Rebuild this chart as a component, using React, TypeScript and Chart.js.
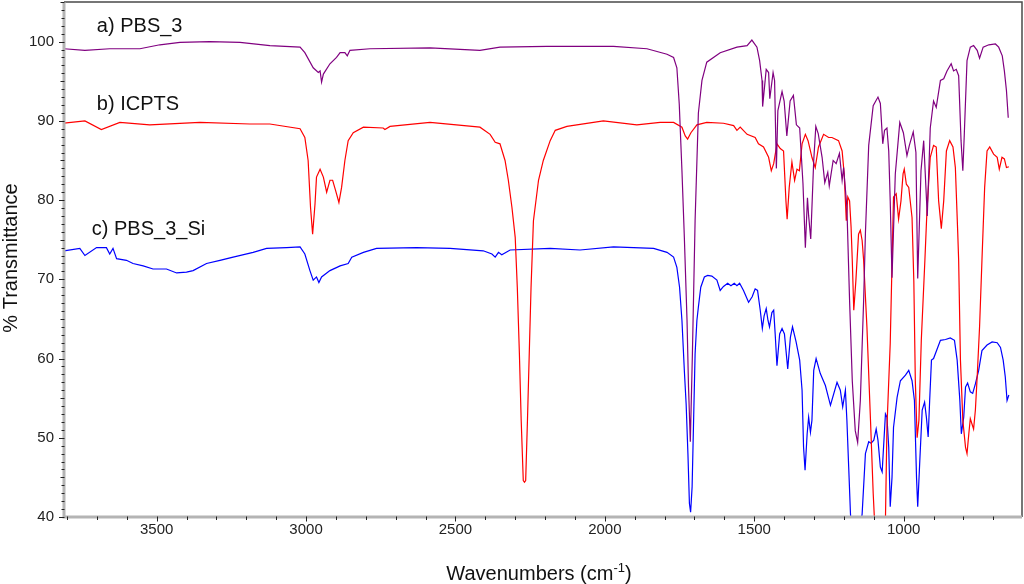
import React, { useEffect, useRef } from 'react';
import { Chart, registerables } from 'chart.js';

Chart.register(...registerables);

// ---- axis definitions ----
const xTickValues = [3500, 3000, 2500, 2000, 1500, 1000];
const yTickValues = [40, 50, 60, 70, 80, 90, 100];
const X_MIN = 604;
const X_MAX = 3810;
const Y_MIN = 40;
const Y_MAX = 105;

// ---- series: [wavenumber (cm-1), % transmittance] ----
const pbs3: [number, number][] = [
  [3810, 99.1], [3740, 98.9], [3657, 99.1], [3556, 99.1], [3489, 99.6], [3422, 99.9], [3322, 100.0], [3221, 99.9],
  [3121, 99.5], [3020, 99.3], [3004, 98.6], [2976, 96.7], [2959, 96.1], [2953, 96.3], [2948, 94.9], [2942, 95.9],
  [2920, 97.2], [2898, 98.0], [2886, 98.6], [2870, 98.6], [2862, 98.2], [2853, 98.9], [2786, 99.1], [2585, 99.2],
  [2418, 98.9], [2351, 99.3], [2194, 99.4], [1971, 99.4], [1859, 99.1], [1792, 98.4], [1770, 98.0], [1759, 96.7],
  [1751, 92.1], [1742, 83.7], [1734, 75.3], [1725, 64.8], [1720, 56.4], [1714, 49.5], [1707, 60.6], [1698, 77.4],
  [1687, 91.0], [1675, 95.1], [1659, 97.4], [1614, 98.6], [1558, 99.3], [1524, 99.5], [1508, 100.2], [1491, 99.3],
  [1482, 97.6], [1474, 95.1], [1472, 91.8], [1460, 96.5], [1452, 96.1], [1448, 92.8], [1437, 96.1], [1432, 95.1],
  [1426, 84.0], [1421, 91.3], [1407, 93.7], [1400, 92.5], [1391, 88.1], [1380, 92.5], [1369, 93.2], [1359, 89.5],
  [1348, 89.1], [1337, 82.1], [1329, 74.0], [1322, 80.3], [1318, 78.0], [1311, 75.1], [1301, 85.0], [1294, 89.3],
  [1286, 88.4], [1273, 85.4], [1264, 82.2], [1254, 83.5], [1249, 81.8], [1236, 85.0], [1226, 84.6], [1215, 85.9],
  [1206, 82.5], [1201, 84.1], [1190, 79.1], [1181, 67.3], [1172, 57.2], [1162, 50.9], [1154, 49.4], [1145, 54.7],
  [1134, 67.3], [1128, 75.8], [1117, 86.9], [1102, 91.9], [1086, 93.0], [1078, 92.2], [1070, 87.1], [1064, 88.8],
  [1056, 89.1], [1050, 86.2], [1045, 79.9], [1039, 70.2], [1028, 83.3], [1013, 89.8], [1001, 88.5], [989, 85.6],
  [981, 86.9], [968, 88.6], [959, 86.0], [953, 70.1], [942, 83.7], [933, 87.5], [921, 78.0], [911, 89.1],
  [900, 92.5], [891, 91.7], [877, 95.1], [866, 95.3], [855, 96.3], [841, 97.2], [833, 96.3], [824, 96.5],
  [816, 95.7], [808, 87.5], [802, 83.7], [797, 88.4], [788, 97.6], [777, 99.3], [766, 99.5], [754, 98.9],
  [746, 97.9], [734, 99.3], [715, 99.6], [693, 99.7], [682, 99.3], [670, 98.2], [663, 96.3], [656, 93.8],
  [650, 90.4],
];

const icpts: [number, number][] = [
  [3810, 89.7], [3740, 90.0], [3685, 88.9], [3623, 89.8], [3523, 89.5], [3355, 89.8], [3188, 89.6], [3121, 89.6],
  [3020, 89.0], [3004, 87.9], [2993, 85.0], [2985, 79.1], [2978, 75.7], [2970, 79.5], [2965, 82.9], [2953, 83.9],
  [2942, 82.9], [2931, 81.0], [2920, 82.5], [2911, 82.5], [2901, 81.2], [2890, 79.7], [2881, 81.6], [2870, 85.0],
  [2859, 87.5], [2842, 88.5], [2808, 89.2], [2742, 89.1], [2736, 88.9], [2719, 89.3], [2585, 89.8], [2418, 89.2],
  [2384, 88.3], [2367, 87.3], [2351, 87.1], [2334, 85.0], [2323, 82.5], [2311, 79.1], [2300, 75.3], [2293, 69.0],
  [2286, 60.6], [2280, 52.2], [2273, 44.6], [2269, 44.4], [2265, 44.6], [2259, 52.2], [2253, 60.6], [2247, 69.0],
  [2239, 77.4], [2222, 82.5], [2206, 85.0], [2183, 87.5], [2166, 88.8], [2127, 89.3], [2005, 90.0], [1893, 89.5],
  [1815, 89.8], [1770, 89.8], [1742, 89.2], [1731, 88.1], [1723, 87.7], [1712, 88.5], [1692, 89.5], [1659, 89.8],
  [1603, 89.7], [1569, 89.4], [1558, 88.8], [1547, 89.2], [1524, 88.3], [1497, 87.9], [1486, 87.1], [1469, 86.7],
  [1452, 85.4], [1443, 83.7], [1435, 84.6], [1424, 87.1], [1413, 86.5], [1402, 86.2], [1394, 79.9], [1390, 77.6],
  [1383, 81.6], [1374, 84.8], [1365, 82.5], [1357, 83.9], [1349, 83.7], [1340, 87.1], [1329, 88.3], [1320, 87.5],
  [1307, 85.4], [1296, 84.1], [1285, 86.7], [1268, 88.3], [1251, 87.9], [1240, 87.9], [1218, 87.5], [1206, 86.2],
  [1199, 83.3], [1192, 77.4], [1187, 80.4], [1181, 79.9], [1176, 76.6], [1172, 72.4], [1167, 66.1], [1160, 69.8],
  [1151, 75.7], [1145, 76.2], [1139, 74.9], [1134, 72.4], [1123, 64.0], [1111, 52.2], [1102, 43.0], [1096, 38.3],
  [1078, 36.4], [1061, 39.6], [1056, 51.3], [1045, 61.9], [1034, 80.4], [1025, 80.8], [1017, 77.6], [1009, 79.9],
  [1002, 83.3], [998, 83.9], [991, 82.0], [983, 81.6], [972, 77.8], [966, 69.8], [961, 57.2], [955, 50.0],
  [949, 52.2], [941, 62.3], [929, 72.4], [922, 78.7], [911, 85.4], [900, 86.9], [891, 86.7], [883, 79.9],
  [874, 76.4], [866, 79.9], [857, 86.2], [846, 87.5], [835, 86.7], [827, 84.1], [819, 75.8], [816, 72.4],
  [810, 59.8], [802, 52.2], [793, 48.8], [788, 48.0], [782, 50.5], [777, 52.4], [766, 51.1], [760, 53.5],
  [754, 57.7], [746, 64.0], [738, 72.4], [729, 81.6], [721, 86.2], [712, 86.7], [699, 85.8], [687, 85.4],
  [680, 83.9], [671, 85.4], [663, 85.2], [656, 84.1], [648, 84.2],
];

const pbs3Si: [number, number][] = [
  [3810, 73.6], [3757, 73.9], [3740, 73.0], [3701, 74.0], [3668, 74.0], [3657, 73.2], [3646, 73.9], [3634, 72.6],
  [3601, 72.4], [3579, 72.0], [3545, 71.7], [3512, 71.3], [3467, 71.3], [3433, 70.8], [3400, 70.9], [3378, 71.1],
  [3333, 72.0], [3288, 72.4], [3244, 72.8], [3177, 73.4], [3132, 73.9], [3065, 74.0], [3020, 74.1], [3004, 73.2],
  [2987, 71.1], [2976, 69.9], [2965, 70.3], [2957, 69.6], [2948, 70.3], [2920, 71.1], [2886, 71.7], [2859, 72.0],
  [2847, 72.8], [2808, 73.4], [2764, 73.9], [2630, 74.0], [2518, 73.9], [2407, 73.6], [2378, 73.2], [2367, 72.8],
  [2356, 73.4], [2345, 73.1], [2317, 73.7], [2183, 73.9], [2083, 73.7], [1971, 74.1], [1837, 73.9], [1792, 73.4],
  [1770, 72.8], [1759, 71.5], [1750, 69.0], [1742, 64.8], [1734, 58.5], [1728, 54.3], [1722, 48.0], [1717, 41.7],
  [1713, 40.6], [1708, 43.8], [1703, 52.2], [1698, 60.6], [1692, 64.8], [1687, 66.5], [1679, 69.0], [1667, 70.3],
  [1656, 70.5], [1642, 70.4], [1625, 69.9], [1614, 68.6], [1603, 69.1], [1589, 69.5], [1578, 69.2], [1567, 69.5],
  [1558, 69.2], [1549, 69.5], [1536, 68.6], [1519, 67.1], [1507, 67.8], [1497, 68.8], [1489, 68.6], [1480, 66.1],
  [1473, 63.8], [1467, 65.4], [1460, 66.3], [1454, 64.8], [1449, 64.0], [1441, 65.8], [1435, 66.1], [1430, 63.1],
  [1424, 59.1], [1415, 63.1], [1407, 63.8], [1399, 63.1], [1388, 58.7], [1379, 62.7], [1372, 64.0], [1360, 62.1],
  [1348, 59.8], [1340, 56.0], [1335, 48.8], [1330, 45.9], [1323, 50.5], [1318, 52.6], [1312, 50.7], [1307, 52.2],
  [1301, 58.5], [1293, 60.0], [1279, 58.1], [1262, 56.6], [1245, 54.1], [1223, 57.0], [1212, 56.0], [1204, 53.9],
  [1195, 56.0], [1190, 52.2], [1184, 46.3], [1178, 40.4], [1172, 36.4], [1152, 36.4], [1139, 40.4], [1128, 48.0],
  [1117, 49.5], [1109, 49.3], [1100, 49.7], [1092, 51.1], [1086, 49.7], [1078, 46.3], [1072, 45.7], [1061, 53.0],
  [1056, 52.6], [1050, 48.8], [1045, 41.3], [1039, 45.0], [1034, 51.3], [1022, 55.1], [1011, 57.2], [994, 57.9],
  [983, 58.5], [972, 57.2], [964, 54.7], [957, 45.0], [953, 41.3], [946, 47.1], [938, 53.5], [930, 54.5],
  [924, 52.6], [918, 50.1], [913, 54.7], [907, 59.8], [900, 60.0], [877, 62.3], [860, 62.4], [844, 62.6],
  [830, 62.3], [821, 59.8], [812, 54.7], [807, 50.5], [799, 52.6], [793, 56.4], [786, 56.9], [777, 55.8],
  [769, 55.6], [760, 56.8], [749, 58.5], [738, 61.0], [721, 61.7], [704, 62.1], [687, 62.0], [676, 61.4],
  [667, 59.8], [660, 57.7], [654, 54.7], [648, 55.4],
];

// ---- curve labels (anchored in data coordinates) ----
const seriesLabels = ['a) PBS_3', 'b) ICPTS', 'c) PBS_3_Si'];
const labelWn = [3700, 3700, 3717];
const labelT = [101.9, 92.05, 76.3];

const FONT = '"Liberation Sans", Arial, Helvetica, sans-serif';

const toXY = (arr: [number, number][]) => arr.map(([x, y]) => ({ x, y }));

const decorPlugin = {
  id: 'decor',
  afterDraw(chart: any) {
    const { ctx, chartArea, scales } = chart;
    const { left, right, top, bottom } = chartArea;
    const xs = scales.x;
    const ys = scales.y;
    ctx.save();

    // top/right frame
    ctx.strokeStyle = '#4a4a4a';
    ctx.lineWidth = 1.5;
    ctx.beginPath();
    ctx.moveTo(left, top);
    ctx.lineTo(right, top);
    ctx.lineTo(right, bottom);
    ctx.stroke();

    // left/bottom grey axes
    ctx.strokeStyle = '#b4b4b4';
    ctx.lineWidth = 3;
    ctx.beginPath();
    ctx.moveTo(left, top);
    ctx.lineTo(left, bottom);
    ctx.lineTo(right, bottom);
    ctx.stroke();

    // y tick marks
    ctx.strokeStyle = '#222';
    ctx.lineWidth = 1;
    for (let v = Y_MIN; v <= Y_MAX; v += 1) {
      const py = Math.round(ys.getPixelForValue(v)) + 0.5;
      const len = v % 10 === 0 ? 5 : v % 5 === 0 ? 3.5 : 2.5;
      ctx.beginPath();
      ctx.moveTo(left - len, py);
      ctx.lineTo(left + 0.5, py);
      ctx.stroke();
    }
    // x tick marks
    for (let v = 700; v <= 3800; v += 100) {
      const px = Math.round(xs.getPixelForValue(v)) + 0.5;
      const len = v % 500 === 0 ? 4.5 : 3;
      ctx.beginPath();
      ctx.moveTo(px, bottom - 0.5);
      ctx.lineTo(px, bottom + len);
      ctx.stroke();
    }

    // curve labels
    ctx.fillStyle = '#111';
    ctx.font = `20px ${FONT}`;
    ctx.textAlign = 'left';
    ctx.textBaseline = 'middle';
    seriesLabels.forEach((t, i) => {
      ctx.fillText(t, xs.getPixelForValue(labelWn[i]), ys.getPixelForValue(labelT[i]));
    });

    // x-axis title with superscript
    const base = 'Wavenumbers (cm';
    const sup = '-1';
    const close = ')';
    ctx.textBaseline = 'alphabetic';
    ctx.font = `20px ${FONT}`;
    const w1 = ctx.measureText(base).width;
    const w3 = ctx.measureText(close).width;
    ctx.font = `13px ${FONT}`;
    const w2 = ctx.measureText(sup).width;
    const total = w1 + w2 + w3;
    const cx = (left + right) / 2 - 4;
    let sx = cx - total / 2;
    const baseY = 580;
    ctx.font = `20px ${FONT}`;
    ctx.fillText(base, sx, baseY);
    sx += w1;
    ctx.font = `13px ${FONT}`;
    ctx.fillText(sup, sx, baseY - 8);
    sx += w2;
    ctx.font = `20px ${FONT}`;
    ctx.fillText(close, sx, baseY);

    // y-axis title
    ctx.save();
    ctx.translate(11, 258);
    ctx.rotate(-Math.PI / 2);
    ctx.textAlign = 'center';
    ctx.textBaseline = 'middle';
    ctx.font = `20px ${FONT}`;
    ctx.fillText('% Transmittance', 0, 0);
    ctx.restore();

    ctx.restore();
  },
};

export default function App() {
  const canvasRef = useRef<HTMLCanvasElement | null>(null);

  useEffect(() => {
    if (!canvasRef.current) return;
    const chart = new Chart(canvasRef.current, {
      type: 'line',
      data: {
        datasets: [
          { label: 'PBS_3', data: toXY(pbs3), borderColor: '#800080', borderWidth: 1.2 },
          { label: 'ICPTS', data: toXY(icpts), borderColor: '#ff0000', borderWidth: 1.2 },
          { label: 'PBS_3_Si', data: toXY(pbs3Si), borderColor: '#0000ff', borderWidth: 1.2 },
        ],
      },
      options: {
        animation: false,
        responsive: true,
        maintainAspectRatio: false,
        layout: { padding: { top: 2, right: 2, left: 0, bottom: 0 } },
        elements: { point: { radius: 0 }, line: { tension: 0, fill: false } },
        plugins: { legend: { display: false }, tooltip: { enabled: false } },
        scales: {
          x: {
            type: 'linear',
            reverse: true,
            min: X_MIN,
            max: X_MAX,
            grid: { display: false, drawTicks: false },
            border: { display: false },
            afterBuildTicks: (s: any) => {
              s.ticks = xTickValues.map((v) => ({ value: v }));
            },
            afterFit: (s: any) => {
              s.height = 67;
              s.paddingLeft = 0;
              s.paddingRight = 0;
            },
            ticks: {
              padding: 4,
              color: '#222',
              autoSkip: false,
              maxRotation: 0,
              font: { family: FONT, size: 15 },
              callback: (v: any) => String(v),
            },
          },
          y: {
            type: 'linear',
            min: Y_MIN,
            max: Y_MAX,
            grid: { display: false, drawTicks: false },
            border: { display: false },
            afterBuildTicks: (s: any) => {
              s.ticks = yTickValues.map((v) => ({ value: v }));
            },
            afterFit: (s: any) => {
              s.width = 64;
              s.paddingTop = 0;
              s.paddingBottom = 0;
            },
            ticks: {
              padding: 10,
              color: '#222',
              autoSkip: false,
              font: { family: FONT, size: 15 },
              callback: (v: any) => String(v),
            },
          },
        },
      },
      plugins: [decorPlugin],
    } as any);
    return () => chart.destroy();
  }, []);

  return (
    <div style={{ position: 'fixed', left: 0, top: 0, width: 1024, height: 584, background: '#fff' }}>
      <canvas ref={canvasRef} />
    </div>
  );
}
